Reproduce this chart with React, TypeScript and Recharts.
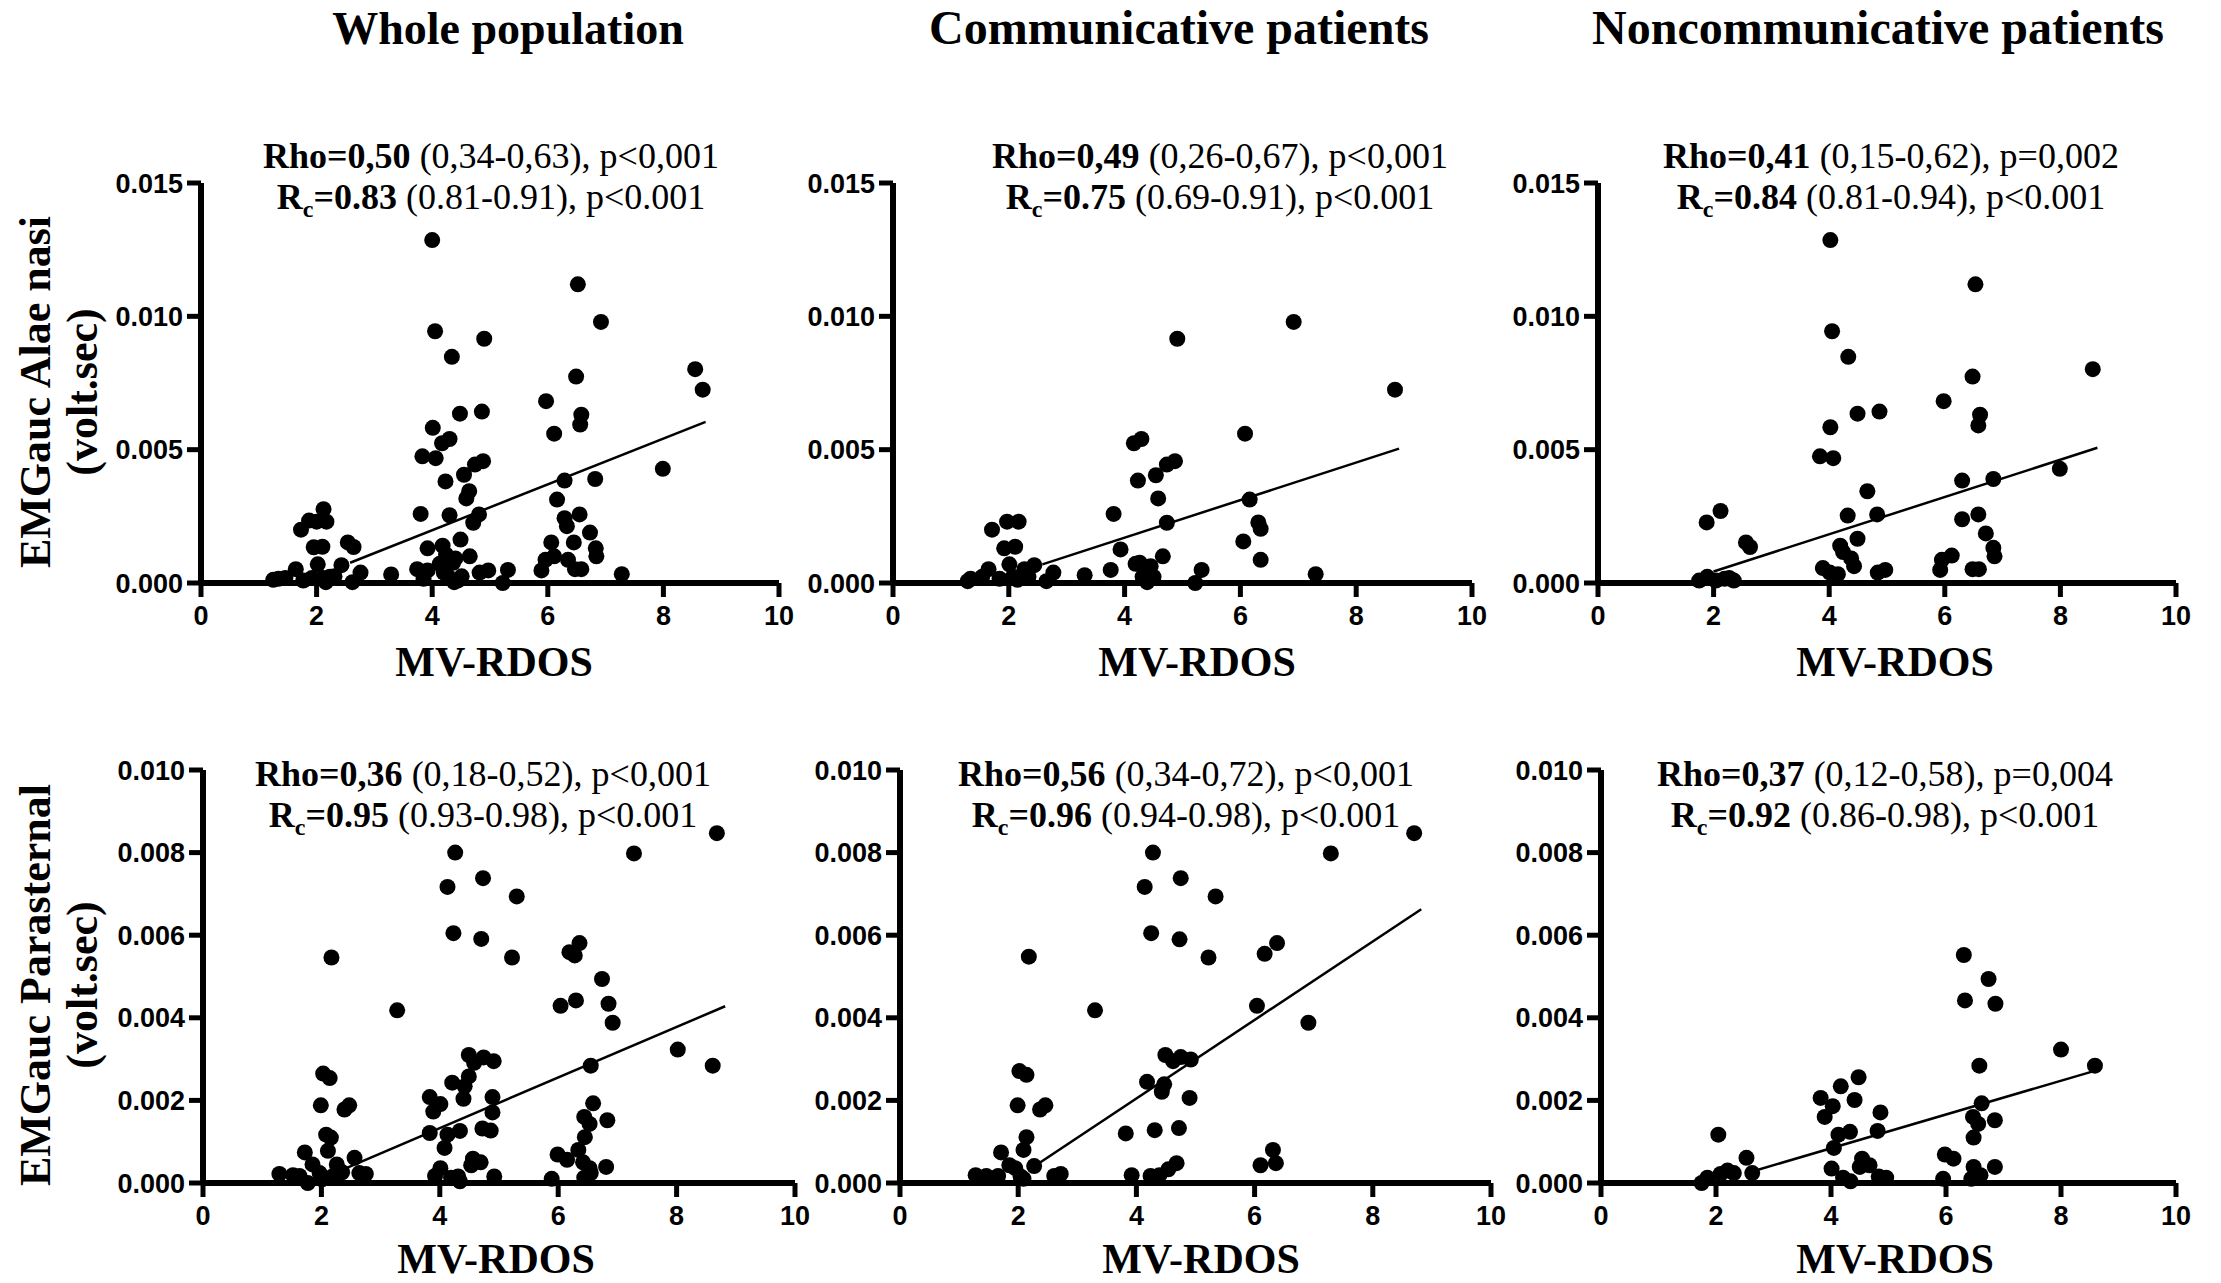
import React from 'react'
import { ScatterChart, Scatter, XAxis, YAxis, ReferenceLine } from 'recharts'

// x = MV-RDOS, y = EMGauc in 10^-3 volt.sec
const alaeWhole = [
  [4.0, 12.86], [6.52, 11.2], [6.92, 9.79], [4.05, 9.44], [4.9, 9.16], [4.34, 8.48], [8.55, 8.02], [8.68, 7.25],
  [6.49, 7.74], [5.97, 6.82], [4.48, 6.35], [4.86, 6.43], [6.58, 6.31], [6.56, 5.94], [4.01, 5.82], [6.11, 5.6],
  [4.17, 5.24], [4.3, 5.4], [3.83, 4.75], [4.06, 4.68], [4.74, 4.44], [4.88, 4.57], [7.99, 4.28], [4.55, 4.06],
  [4.23, 3.81], [6.29, 3.84], [6.82, 3.9], [4.64, 3.44], [4.59, 3.17], [6.16, 3.13], [3.8, 2.59], [4.3, 2.54],
  [4.81, 2.57], [4.71, 2.26], [6.55, 2.57], [6.29, 2.43], [6.33, 2.13], [2.12, 2.77], [1.87, 2.34], [2.0, 2.3],
  [2.17, 2.3], [1.73, 2.0], [6.73, 1.89], [4.49, 1.63], [6.45, 1.52], [6.06, 1.52], [2.54, 1.52], [2.64, 1.35],
  [1.95, 1.34], [2.1, 1.36], [3.92, 1.3], [4.18, 1.4], [6.83, 1.3], [6.84, 1.0], [4.24, 1.06], [4.65, 1.0],
  [4.4, 0.92], [6.11, 1.0], [5.96, 0.87], [6.35, 0.87], [4.13, 0.72], [4.36, 0.76], [2.02, 0.7], [2.43, 0.67],
  [1.64, 0.52], [3.74, 0.52], [3.92, 0.47], [5.89, 0.47], [6.47, 0.52], [6.58, 0.52], [5.31, 0.49], [4.97, 0.47],
  [4.82, 0.39], [2.76, 0.39], [3.29, 0.32], [7.28, 0.33], [4.2, 0.39], [4.51, 0.25], [1.25, 0.12], [1.34, 0.16],
  [1.46, 0.19], [1.77, 0.09], [1.92, 0.19], [2.12, 0.19], [2.23, 0.23], [2.31, 0.25], [2.62, 0.03], [2.16, 0.03],
  [4.38, 0.03], [5.22, 0.0], [3.85, 0.16], [4.44, 0.09], [4.28, 0.23],
]

const alaeComm = [
  [6.92, 9.79], [4.91, 9.16], [8.67, 7.25], [6.08, 5.6], [4.16, 5.24], [4.29, 5.4], [4.73, 4.44], [4.87, 4.57],
  [4.54, 4.04], [4.23, 3.84], [4.58, 3.17], [6.16, 3.13], [3.81, 2.59], [4.73, 2.26], [6.31, 2.27], [6.35, 2.03],
  [1.71, 2.0], [1.97, 2.3], [2.17, 2.3], [1.92, 1.3], [2.11, 1.36], [3.93, 1.26], [6.05, 1.56], [4.66, 1.0],
  [6.35, 0.87], [4.19, 0.72], [4.26, 0.76], [4.45, 0.63], [2.01, 0.7], [2.44, 0.67], [1.65, 0.52], [3.76, 0.49],
  [5.33, 0.49], [2.27, 0.52], [2.77, 0.39], [3.31, 0.29], [7.3, 0.33], [1.29, 0.07], [1.34, 0.16], [1.54, 0.23],
  [1.84, 0.16], [2.07, 0.23], [2.34, 0.23], [2.65, 0.07], [4.39, 0.03], [4.31, 0.23], [4.5, 0.23], [5.22, 0.0],
  [2.15, 0.12],
]

const alaeNonComm = [
  [4.02, 12.86], [6.53, 11.2], [4.05, 9.44], [4.33, 8.48], [8.56, 8.02], [6.48, 7.74], [5.98, 6.82], [4.49, 6.35],
  [4.87, 6.43], [6.61, 6.31], [6.58, 5.91], [4.02, 5.84], [3.84, 4.75], [4.07, 4.68], [7.99, 4.28], [6.3, 3.84],
  [6.84, 3.9], [4.66, 3.44], [2.12, 2.7], [1.88, 2.27], [4.32, 2.53], [4.83, 2.57], [6.3, 2.39], [6.58, 2.57],
  [4.49, 1.66], [6.71, 1.86], [2.56, 1.52], [2.63, 1.35], [4.19, 1.4], [4.24, 1.16], [6.84, 1.32], [6.86, 1.0],
  [6.12, 1.03], [5.95, 0.87], [4.38, 0.92], [4.43, 0.63], [3.89, 0.56], [5.92, 0.49], [6.48, 0.52], [6.59, 0.52],
  [4.97, 0.49], [4.84, 0.39], [4.01, 0.39], [4.15, 0.33], [1.75, 0.09], [1.89, 0.23], [2.04, 0.09], [2.19, 0.16],
  [2.35, 0.09], [2.27, 0.19],
]

const paraWhole = [
  [8.68, 8.47], [7.28, 7.98], [4.26, 8.0], [4.73, 7.38], [4.13, 7.17], [5.3, 6.94], [4.23, 6.05], [4.7, 5.91],
  [2.17, 5.46], [5.22, 5.46], [6.19, 5.59], [6.36, 5.81], [6.28, 5.51], [6.74, 4.94], [6.04, 4.29], [6.3, 4.42],
  [6.85, 4.34], [6.92, 3.88], [3.28, 4.18], [8.02, 3.23], [8.61, 2.84], [6.55, 2.84], [4.49, 3.1], [4.74, 3.04],
  [4.58, 2.91], [4.91, 2.95], [2.03, 2.65], [2.14, 2.54], [4.21, 2.43], [4.49, 2.58], [4.42, 2.34], [4.4, 2.04],
  [3.83, 2.08], [4.01, 1.91], [3.89, 1.73], [4.89, 2.08], [4.89, 1.71], [1.99, 1.88], [2.39, 1.78], [2.47, 1.88],
  [6.59, 1.93], [6.44, 1.6], [6.53, 1.43], [6.83, 1.52], [6.45, 1.11], [2.08, 1.17], [2.16, 1.1], [3.83, 1.21],
  [4.13, 1.17], [4.34, 1.26], [4.72, 1.32], [4.86, 1.27], [4.08, 0.85], [1.72, 0.74], [2.11, 0.78], [5.99, 0.69],
  [6.15, 0.56], [6.34, 0.8], [2.56, 0.61], [2.26, 0.45], [1.85, 0.45], [4.56, 0.59], [4.69, 0.5], [4.53, 0.43],
  [6.81, 0.39], [6.42, 0.5], [4.01, 0.36], [6.53, 0.36], [1.29, 0.22], [1.52, 0.19], [1.63, 0.17], [1.77, 0.0],
  [2.2, 0.17], [2.35, 0.26], [2.64, 0.24], [2.75, 0.22], [3.92, 0.17], [4.19, 0.13], [4.34, 0.04], [4.31, 0.16],
  [4.92, 0.16], [5.89, 0.1], [6.44, 0.13], [6.55, 0.24], [1.97, 0.24], [2.01, 0.09],
]

const paraComm = [
  [8.7, 8.47], [7.29, 7.98], [4.28, 8.0], [4.75, 7.38], [4.14, 7.17], [5.34, 6.94], [4.25, 6.05], [4.73, 5.9],
  [2.18, 5.48], [5.22, 5.46], [6.17, 5.55], [6.38, 5.81], [6.04, 4.29], [6.91, 3.88], [3.3, 4.18], [4.49, 3.1],
  [4.62, 2.95], [4.75, 3.05], [4.92, 2.99], [2.02, 2.71], [2.14, 2.62], [4.18, 2.45], [4.47, 2.39], [4.43, 2.21],
  [1.99, 1.88], [2.37, 1.78], [2.46, 1.88], [4.9, 2.06], [3.82, 1.2], [4.31, 1.28], [4.72, 1.33], [2.14, 1.11],
  [1.71, 0.74], [2.09, 0.8], [6.31, 0.8], [6.36, 0.48], [6.1, 0.43], [1.85, 0.43], [2.27, 0.41], [4.68, 0.48],
  [4.54, 0.33], [1.28, 0.19], [1.46, 0.17], [1.66, 0.17], [2.04, 0.16], [2.72, 0.22], [2.61, 0.17], [3.92, 0.19],
  [4.24, 0.17], [4.39, 0.19], [1.95, 0.36], [2.09, 0.1],
]

const paraNonComm = [
  [6.31, 5.52], [6.74, 4.94], [6.33, 4.42], [6.86, 4.34], [8.0, 3.23], [8.59, 2.84], [6.58, 2.84], [4.48, 2.56],
  [4.17, 2.34], [4.41, 2.01], [3.82, 2.06], [4.03, 1.86], [3.89, 1.6], [4.86, 1.71], [6.62, 1.93], [6.47, 1.6],
  [6.56, 1.43], [6.85, 1.52], [2.04, 1.17], [4.13, 1.17], [4.33, 1.24], [4.81, 1.26], [6.48, 1.1], [4.05, 0.85],
  [2.53, 0.61], [5.98, 0.69], [6.13, 0.59], [4.54, 0.59], [4.67, 0.43], [4.5, 0.39], [4.01, 0.35], [6.85, 0.39],
  [6.48, 0.39], [2.63, 0.24], [2.2, 0.3], [2.31, 0.24], [2.08, 0.22], [1.85, 0.13], [1.75, 0.0], [4.21, 0.13],
  [4.34, 0.04], [4.83, 0.16], [4.96, 0.13], [5.95, 0.1], [6.44, 0.1], [6.6, 0.19],
]

// regression line end points
const alaeFits = [
  [[2.58, 0.76], [8.73, 6.04]],
  [[2.58, 0.7], [8.74, 5.04]],
  [[2.0, 0.43], [8.64, 5.07]],
]
const paraFits = [
  [[2.4, 0.35], [8.82, 4.28]],
  [[2.3, 0.43], [8.82, 6.63]],
  [[2.63, 0.28], [8.57, 2.71]],
]

const xTicks = [0, 2, 4, 6, 8, 10]
const alaeTicks = [0, 5, 10, 15]
const paraTicks = [0, 2, 4, 6, 8, 10]

const groupTitles = ['Whole population', 'Communicative patients', 'Noncommunicative patients']
const rowLabels = [['EMGauc Alae nasi', '(volt.sec)'], ['EMGauc Parasternal', '(volt.sec)']]
const xLabel = 'MV-RDOS'

const alaeStats = [
  { rho: '0,50', rhoRest: '(0,34-0,63), p<0,001', rc: '0.83', rcRest: '(0.81-0.91), p<0.001' },
  { rho: '0,49', rhoRest: '(0,26-0,67), p<0,001', rc: '0.75', rcRest: '(0.69-0.91), p<0.001' },
  { rho: '0,41', rhoRest: '(0,15-0,62), p=0,002', rc: '0.84', rcRest: '(0.81-0.94), p<0.001' },
]
const paraStats = [
  { rho: '0,36', rhoRest: '(0,18-0,52), p<0,001', rc: '0.95', rcRest: '(0.93-0.98), p<0.001' },
  { rho: '0,56', rhoRest: '(0,34-0,72), p<0,001', rc: '0.96', rcRest: '(0.94-0.98), p<0.001' },
  { rho: '0,37', rhoRest: '(0,12-0,58), p=0,004', rc: '0.92', rcRest: '(0.86-0.98), p<0.001' },
]

// layout (page pixels)
const topBoxes = [
  { x0: 201, x1: 779, y0: 183, y1: 583 },
  { x0: 893, x1: 1472, y0: 183, y1: 583 },
  { x0: 1598, x1: 2176, y0: 183, y1: 583 },
]
const bottomBoxes = [
  { x0: 203, x1: 795, y0: 770, y1: 1183 },
  { x0: 900, x1: 1491, y0: 770, y1: 1183 },
  { x0: 1601, x1: 2176, y0: 770, y1: 1183 },
]
const titleX = [508, 1179, 1878]
const titleSize = [46, 48, 48]
const topStatX = [491, 1220, 1891]
const bottomStatX = [483, 1186, 1885]
const topLabelX = [494, 1197, 1895]
const bottomLabelX = [496, 1201, 1895]

const SERIF = '"Liberation Serif", "Times New Roman", serif'
const SANS = '"Liberation Sans", Arial, sans-serif'

const tickStyle = { fontFamily: SANS, fontWeight: 'bold', fontSize: 27, fill: '#000' }

const Dot = (p: any) => <circle cx={p.cx} cy={p.cy} r={8} fill="#000" />

function Panel({ box, points, fit, yTicks, yMax }: any) {
  const yw = 120
  const xh = 70
  const mt = 30
  const mr = 40
  const w = box.x1 - box.x0
  const h = box.y1 - box.y0
  const data = points.map(([x, y]: number[]) => ({ x, y }))
  return (
    <div style={{ position: 'absolute', left: box.x0 - yw, top: box.y0 - mt }}>
      <ScatterChart width={yw + w + mr} height={mt + h + xh} margin={{ top: mt, right: mr, bottom: 0, left: 0 }}>
        <XAxis
          type="number"
          dataKey="x"
          domain={[0, 10]}
          ticks={xTicks}
          interval={0}
          height={xh}
          tickSize={14}
          tickMargin={9}
          axisLine={{ stroke: '#000', strokeWidth: 6 }}
          tickLine={{ stroke: '#000', strokeWidth: 5 }}
          tick={tickStyle}
        />
        <YAxis
          type="number"
          dataKey="y"
          domain={[0, yMax]}
          ticks={yTicks}
          interval={0}
          width={yw}
          tickSize={14}
          tickMargin={4}
          tickFormatter={(v: number) => (v / 1000).toFixed(3)}
          axisLine={{ stroke: '#000', strokeWidth: 6 }}
          tickLine={{ stroke: '#000', strokeWidth: 5 }}
          tick={tickStyle}
        />
        <ReferenceLine
          segment={[{ x: fit[0][0], y: fit[0][1] }, { x: fit[1][0], y: fit[1][1] }]}
          stroke="#000"
          strokeWidth={2.5}
        />
        <Scatter data={data} isAnimationActive={false} shape={Dot} />
      </ScatterChart>
    </div>
  )
}

function Stats({ x, y, s }: any) {
  return (
    <g fontFamily={SERIF} fontSize={36} fill="#000" style={{ whiteSpace: 'pre' }}>
      <text x={x} y={y} textAnchor="middle">
        <tspan fontWeight="bold">{'Rho=' + s.rho}</tspan>
        <tspan>{' ' + s.rhoRest}</tspan>
      </text>
      <text x={x} y={y + 41} textAnchor="middle">
        <tspan fontWeight="bold">R</tspan>
        <tspan fontWeight="bold" fontSize={24} dy={8}>c</tspan>
        <tspan fontWeight="bold" dy={-8}>{'=' + s.rc}</tspan>
        <tspan>{' ' + s.rcRest}</tspan>
      </text>
    </g>
  )
}

export default function App() {
  const alae = [alaeWhole, alaeComm, alaeNonComm]
  const para = [paraWhole, paraComm, paraNonComm]
  return (
    <div style={{ position: 'absolute', left: 0, top: 0, width: 2221, height: 1283, background: '#fff', overflow: 'hidden' }}>
      {topBoxes.map((b, i) => (
        <Panel key={'a' + i} box={b} points={alae[i]} fit={alaeFits[i]} yTicks={alaeTicks} yMax={15} />
      ))}
      {bottomBoxes.map((b, i) => (
        <Panel key={'p' + i} box={b} points={para[i]} fit={paraFits[i]} yTicks={paraTicks} yMax={10} />
      ))}
      <svg width={2221} height={1283} style={{ position: 'absolute', left: 0, top: 0, pointerEvents: 'none' }}>
        {groupTitles.map((t, i) => (
          <text key={t} x={titleX[i]} y={44} textAnchor="middle" fontFamily={SERIF} fontWeight="bold" fontSize={titleSize[i]}>
            {t}
          </text>
        ))}
        {alaeStats.map((s, i) => <Stats key={'sa' + i} x={topStatX[i]} y={168} s={s} />)}
        {paraStats.map((s, i) => <Stats key={'sp' + i} x={bottomStatX[i]} y={786} s={s} />)}
        {topLabelX.map((x, i) => (
          <text key={'xl' + i} x={x} y={676} textAnchor="middle" fontFamily={SERIF} fontWeight="bold" fontSize={42}>
            {xLabel}
          </text>
        ))}
        {bottomLabelX.map((x, i) => (
          <text key={'xb' + i} x={x} y={1273} textAnchor="middle" fontFamily={SERIF} fontWeight="bold" fontSize={42}>
            {xLabel}
          </text>
        ))}
        {rowLabels.map((lines, r) => {
          const cy = r === 0 ? 392 : 985
          return (
            <g key={'rl' + r} fontFamily={SERIF} fontWeight="bold" fontSize={44}>
              <text x={50} y={cy} textAnchor="middle" transform={`rotate(-90 50 ${cy})`}>{lines[0]}</text>
              <text x={97} y={cy} textAnchor="middle" transform={`rotate(-90 97 ${cy})`}>{lines[1]}</text>
            </g>
          )
        })}
      </svg>
    </div>
  )
}
